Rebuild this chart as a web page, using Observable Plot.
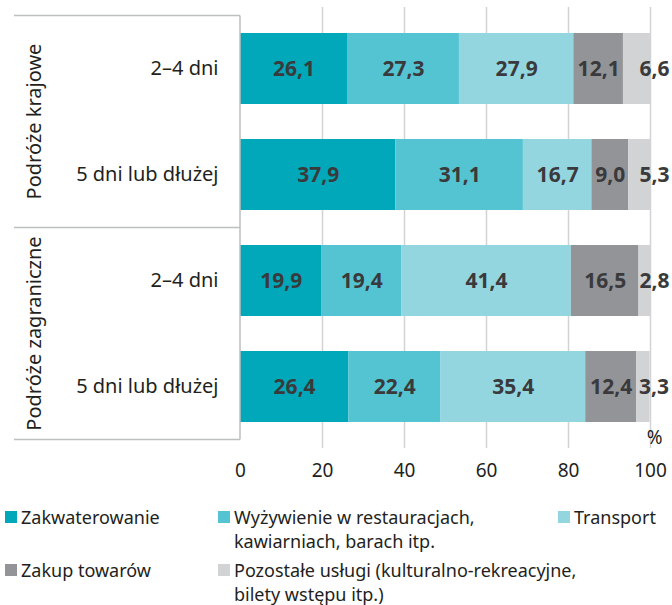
<!DOCTYPE html>
<html>
<head>
<meta charset="utf-8">
<script src="https://cdn.jsdelivr.net/npm/d3@7"></script>
<script src="https://cdn.jsdelivr.net/npm/@observablehq/plot@0.6"></script>
<style>
  body { margin: 0; background: #fff; font-family: "Noto Sans", sans-serif; }
  #wrap { position: relative; width: 672px; }
  #legend { position: relative; width: 672px; height: 115px; color: #231f20; font-size: 18px; }
  .item { position: absolute; }
  .sw { position: absolute; left: 0; top: 6px; width: 12px; height: 12px; }
  .ln { position: absolute; left: 16px; height: 24px; line-height: 24px; white-space: nowrap; }
</style>
</head>
<body>
<div id="wrap"></div>
<script>
// ---- data ----
const groups = ["Podróże krajowe", "Podróże krajowe", "Podróże zagraniczne", "Podróże zagraniczne"];
const durations = ["2–4 dni", "5 dni lub dłużej", "2–4 dni", "5 dni lub dłużej"];
const rowKeys = ["K1", "K2", "Z1", "Z2"];
const categories = [
  "Zakwaterowanie",
  "Wyżywienie w restauracjach, kawiarniach, barach itp.",
  "Transport",
  "Zakup towarów",
  "Pozostałe usługi (kulturalno-rekreacyjne, bilety wstępu itp.)"
];
const legendLines = [
  ["Zakwaterowanie"],
  ["Wyżywienie w restauracjach,", "kawiarniach, barach itp."],
  ["Transport"],
  ["Zakup towarów"],
  ["Pozostałe usługi (kulturalno-rekreacyjne,", "bilety wstępu itp.)"]
];
const colors = ["#00a8b9", "#54c4d2", "#94d6e0", "#929497", "#d1d3d4"];
const zakwaterowanie = [26.1, 37.9, 19.9, 26.4];
const wyzywienie = [27.3, 31.1, 19.4, 22.4];
const transport = [27.9, 16.7, 41.4, 35.4];
const zakup = [12.1, 9.0, 16.5, 12.4];
const pozostale = [6.6, 5.3, 2.8, 3.3];
const xTicks = [0, 20, 40, 60, 80, 100];

const series = [zakwaterowanie, wyzywienie, transport, zakup, pozostale];
const data = [];
rowKeys.forEach((k, i) => {
  categories.forEach((c, j) => {
    data.push({row: k, group: groups[i], duration: durations[i], category: c, value: series[j][i]});
  });
});
const fmt = v => v.toFixed(1).replace(".", ",");
const lastCat = categories[categories.length - 1];
const durOf = Object.fromEntries(rowKeys.map((k, i) => [k, durations[i]]));

const chart = Plot.plot({
  width: 672,
  height: 490,
  marginLeft: 240,
  marginRight: 22,
  marginTop: 7,
  marginBottom: 42,
  style: {fontFamily: "Noto Sans", overflow: "visible", background: "white"},
  x: {domain: [0, 100]},
  y: {domain: rowKeys, paddingInner: 0.332, paddingOuter: 0.24},
  color: {domain: categories, range: colors},
  marks: [
    Plot.ruleX(xTicks.filter(t => t > 0), {stroke: "#d1d3d4", strokeWidth: 1.5}),
    Plot.barX(data, Plot.stackX({x: "value", y: "row", fill: "category", z: "category", order: categories})),
    Plot.text(data, Plot.stackX({
      x: "value", y: "row", z: "category", order: categories,
      text: d => d.category === lastCat ? "" : fmt(d.value),
      fill: "#3a3a3c", fontSize: 21, fontWeight: "bold"
    })),
    Plot.text(data, Plot.stackX2({
      x: "value", y: "row", z: "category", order: categories,
      text: d => d.category === lastCat ? fmt(d.value) : "",
      fill: "#3a3a3c", fontSize: 21, fontWeight: "bold", dx: 4
    })),
    Plot.axisY({tickSize: 0, tickPadding: 22, tickFormat: k => durOf[k], fontSize: 20, fill: "#231f20", label: null}),
    Plot.axisX({ticks: xTicks, tickSize: 0, tickPadding: 15, fontSize: 19, fill: "#231f20", label: null}),
    Plot.text(["%"], {frameAnchor: "bottom-right", dx: 12, dy: -5, fontSize: 19, fill: "#231f20"})
  ]
});

document.getElementById("wrap").appendChild(chart);

// group frame lines and rotated group labels, positioned from the plot's scales
const ys = chart.scale("y");
const xs = chart.scale("x");
const bw = ys.bandwidth, gap = ys.step - ys.bandwidth;
const x0 = xs.apply(0);
const svg = d3.select(chart);
const uniqGroups = [...new Set(groups)];
const g = svg.append("g");
const bounds = [];
uniqGroups.forEach(gr => {
  const keys = rowKeys.filter((k, i) => groups[i] === gr);
  const top = ys.apply(keys[0]) - gap / 2;
  const bottom = ys.apply(keys[keys.length - 1]) + bw + gap / 2;
  bounds.push(top);
  bounds.push(bottom);
  g.append("text")
    .attr("transform", `translate(33,${(top + bottom) / 2}) rotate(-90)`)
    .attr("text-anchor", "middle")
    .attr("dominant-baseline", "central")
    .attr("font-family", "Noto Sans")
    .attr("font-size", 20)
    .attr("fill", "#231f20")
    .text(gr);
});
const lineYs = [...new Set(bounds.map(b => Math.round(b * 10) / 10))];
lineYs.forEach(yv => {
  g.append("line").attr("x1", 14).attr("x2", x0).attr("y1", yv).attr("y2", yv)
    .attr("stroke", "#bcbec0").attr("stroke-width", 1.5);
});
g.append("line").attr("x1", x0).attr("x2", x0)
  .attr("y1", d3.min(lineYs)).attr("y2", d3.max(lineYs))
  .attr("stroke", "#bcbec0").attr("stroke-width", 1.5);

// legend
const legend = document.createElement("div");
legend.id = "legend";
const colX = [5, 218, 558, 5, 218];
const rowTop = [15, 15, 15, 68, 68];
categories.forEach((c, i) => {
  const it = document.createElement("div");
  it.className = "item";
  it.style.left = colX[i] + "px";
  it.style.top = rowTop[i] + "px";
  const sw = document.createElement("div");
  sw.className = "sw";
  sw.style.background = colors[i];
  it.appendChild(sw);
  legendLines[i].forEach((t, j) => {
    const ln = document.createElement("div");
    ln.className = "ln";
    ln.style.top = (j * 24) + "px";
    ln.textContent = t;
    it.appendChild(ln);
  });
  legend.appendChild(it);
});
document.getElementById("wrap").appendChild(legend);
</script>
</body>
</html>
